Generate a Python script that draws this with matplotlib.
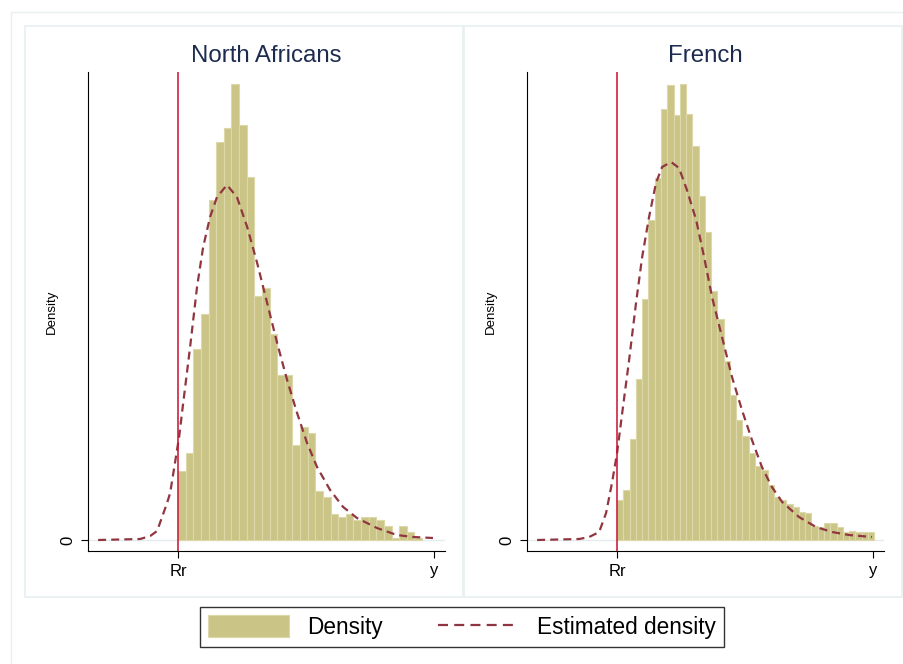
import numpy as np
import matplotlib.pyplot as plt
from matplotlib.patches import Rectangle, Patch
from matplotlib.lines import Line2D

plt.rcParams['font.family'] = ['Liberation Sans', 'DejaVu Sans']

# x is in units where Rr = 0 and y = 1
titles = ['North Africans', 'French']
bin_start = 0.0
bin_width = [0.0298, 0.0245]

hist_na = [69, 87, 191, 226, 340, 398, 412, 456, 415, 363, 244, 252, 206, 165, 165, 95,
           113, 107, 49, 43, 26, 23, 26, 20, 23, 23, 20, 14, 2, 14, 8, 2]
hist_fr = [40, 50, 101, 161, 241, 320, 362, 431, 455, 425, 456, 426, 394, 344, 308, 249,
           221, 179, 145, 120, 104, 87, 74, 70, 55, 43, 40, 36, 33, 28, 27, 14, 13, 17, 17,
           13, 8, 9, 8, 8, 8]

kde_na_x = [-0.3125, -0.148, -0.109, -0.082, -0.043, -0.031, 0.004, 0.020, 0.047, 0.074,
            0.098, 0.125, 0.152, 0.191, 0.230, 0.270, 0.309, 0.348, 0.387, 0.426, 0.465,
            0.504, 0.543, 0.594, 0.645, 0.699, 0.777, 0.855, 0.918, 0.996]
kde_na_y = [0, 1, 4, 9, 37, 47, 103, 137, 193, 253, 293, 323, 343, 355, 343, 313, 277,
            237, 197, 160, 127, 97, 73, 50, 33, 22, 12, 5, 3, 2]

kde_fr_x = [-0.3125, -0.148, -0.109, -0.070, -0.043, -0.020, 0.0, 0.020, 0.047, 0.074,
            0.098, 0.125, 0.152, 0.176, 0.211, 0.242, 0.273, 0.309, 0.340, 0.371, 0.410,
            0.449, 0.488, 0.527, 0.566, 0.605, 0.645, 0.711, 0.777, 0.840, 0.906, 0.996]
kde_fr_y = [0, 1, 3, 8, 27, 57, 87, 127, 180, 237, 283, 323, 357, 373, 378, 372, 350,
            320, 283, 243, 203, 163, 130, 100, 73, 53, 38, 23, 13, 8, 5, 3]

hists = [hist_na, hist_fr]
kdes = [(kde_na_x, kde_na_y), (kde_fr_x, kde_fr_y)]

bar_color = '#cbc487'
bar_edge = '#dcd8aa'
kde_color = '#913540'
rr_color = '#c8102e'
title_color = '#1c2b4f'
frame_color = '#e8f0f2'

fig = plt.figure(figsize=(9.04, 6.64), dpi=100)

# light frames like Stata's graph region
fig.patches.append(Rectangle((11 / 904, -0.05), 1.0, 1 - 12 / 664 + 0.05,
                             transform=fig.transFigure, fill=False, ec=frame_color, lw=1))
for x0 in [25, 464]:
    fig.patches.append(Rectangle((x0 / 904, 1 - 597 / 664), 438 / 904, 571 / 664,
                                 transform=fig.transFigure, fill=False, ec=frame_color, lw=1.2))

lefts = [88 / 904, 527 / 904]
for i in range(2):
    ax = fig.add_axes([lefts[i], 1 - 551 / 664, 357 / 904, 479 / 664])
    h = hists[i]
    edges = bin_start + bin_width[i] * np.arange(len(h))
    ax.bar(edges, h, width=bin_width[i], align='edge', color=bar_color,
           edgecolor=bar_edge, linewidth=0.8, zorder=2)
    ax.plot(kdes[i][0], kdes[i][1], color=kde_color, lw=1.6, dashes=(3.6, 2.3), zorder=3)
    ax.axvline(0, color=rr_color, lw=1.1, zorder=4)
    ax.axhline(0, color='#e3ecef', lw=1, zorder=1)

    ax.set_xlim(-0.352, 1.043)
    ax.set_ylim(-11, 468)
    ax.spines['top'].set_visible(False)
    ax.spines['right'].set_visible(False)
    ax.spines['left'].set_linewidth(0.8)
    ax.spines['bottom'].set_linewidth(0.8)
    ax.set_xticks([0, 1])
    ax.set_xticklabels(['Rr', 'y'], fontsize=12)
    ax.set_yticks([0])
    ax.set_yticklabels(['0'], fontsize=12, rotation=90, va='center')
    ax.tick_params(length=5, width=0.8, pad=4)
    ax.set_ylabel('Density', fontsize=9.5, labelpad=2)
    ax.set_title(titles[i], fontsize=17.3, color=title_color, pad=7)

handles = [Patch(facecolor=bar_color, edgecolor=bar_edge, lw=0.8),
           Line2D([], [], color=kde_color, lw=1.6, dashes=(4.5, 2.8))]
leg = fig.legend(handles, ['Density', 'Estimated density'], loc='center',
                 bbox_to_anchor=(462 / 904, 1 - 627 / 664), ncol=2, fontsize=16.3,
                 frameon=True, fancybox=False, edgecolor='black', handlelength=3.6,
                 handleheight=1.1, columnspacing=2.4, borderpad=0.35)
leg.get_frame().set_linewidth(1.0)

fig.savefig('out.png', dpi=100, facecolor='white')
